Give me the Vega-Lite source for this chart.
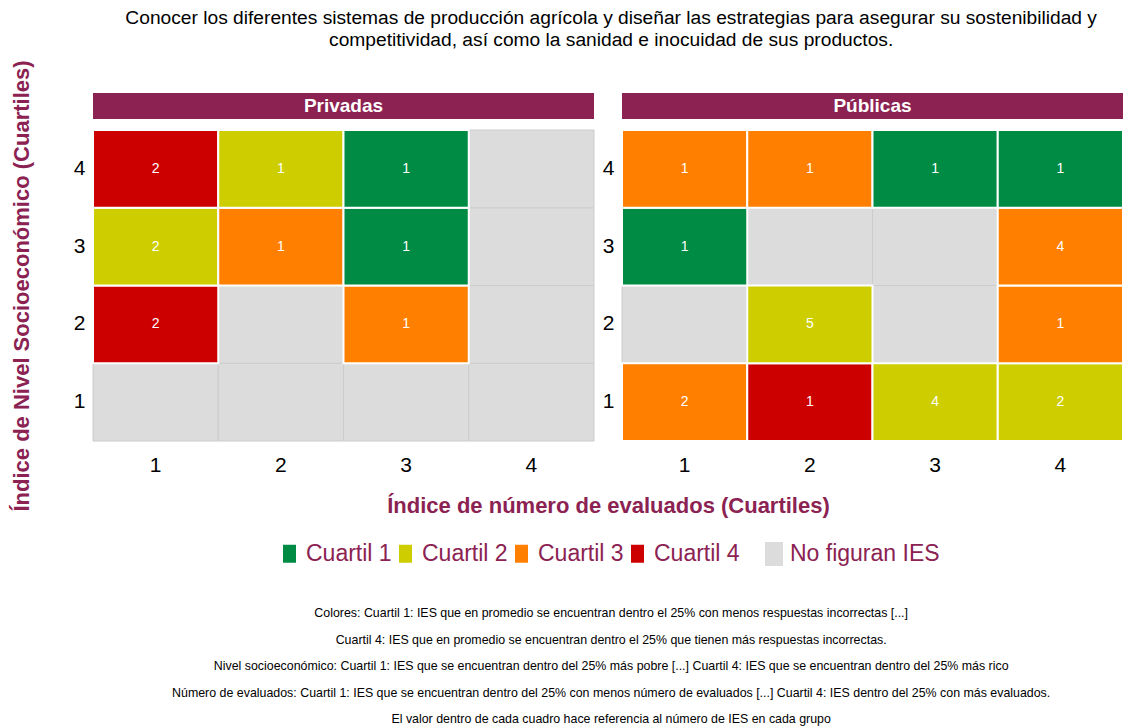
{
  "$schema": "https://vega.github.io/schema/vega-lite/v6.json",
  "padding": {"left": 10, "top": 8, "right": 0, "bottom": 0},
  "config": {
    "font": "Liberation Sans",
    "view": {"stroke": null}
  },
  "datasets": {
    "paneles": [{"sector": "Privadas"}, {"sector": "Públicas"}],
    "celdas": [
      {"sector": "Privadas", "x": 1, "y": 1, "cuartil": "No figuran IES", "n": null},
      {"sector": "Privadas", "x": 2, "y": 1, "cuartil": "No figuran IES", "n": null},
      {"sector": "Privadas", "x": 3, "y": 1, "cuartil": "No figuran IES", "n": null},
      {"sector": "Privadas", "x": 4, "y": 1, "cuartil": "No figuran IES", "n": null},
      {"sector": "Privadas", "x": 1, "y": 2, "cuartil": "Cuartil 4", "n": 2},
      {"sector": "Privadas", "x": 2, "y": 2, "cuartil": "No figuran IES", "n": null},
      {"sector": "Privadas", "x": 3, "y": 2, "cuartil": "Cuartil 3", "n": 1},
      {"sector": "Privadas", "x": 4, "y": 2, "cuartil": "No figuran IES", "n": null},
      {"sector": "Privadas", "x": 1, "y": 3, "cuartil": "Cuartil 2", "n": 2},
      {"sector": "Privadas", "x": 2, "y": 3, "cuartil": "Cuartil 3", "n": 1},
      {"sector": "Privadas", "x": 3, "y": 3, "cuartil": "Cuartil 1", "n": 1},
      {"sector": "Privadas", "x": 4, "y": 3, "cuartil": "No figuran IES", "n": null},
      {"sector": "Privadas", "x": 1, "y": 4, "cuartil": "Cuartil 4", "n": 2},
      {"sector": "Privadas", "x": 2, "y": 4, "cuartil": "Cuartil 2", "n": 1},
      {"sector": "Privadas", "x": 3, "y": 4, "cuartil": "Cuartil 1", "n": 1},
      {"sector": "Privadas", "x": 4, "y": 4, "cuartil": "No figuran IES", "n": null},
      {"sector": "Públicas", "x": 1, "y": 1, "cuartil": "Cuartil 3", "n": 2},
      {"sector": "Públicas", "x": 2, "y": 1, "cuartil": "Cuartil 4", "n": 1},
      {"sector": "Públicas", "x": 3, "y": 1, "cuartil": "Cuartil 2", "n": 4},
      {"sector": "Públicas", "x": 4, "y": 1, "cuartil": "Cuartil 2", "n": 2},
      {"sector": "Públicas", "x": 1, "y": 2, "cuartil": "No figuran IES", "n": null},
      {"sector": "Públicas", "x": 2, "y": 2, "cuartil": "Cuartil 2", "n": 5},
      {"sector": "Públicas", "x": 3, "y": 2, "cuartil": "No figuran IES", "n": null},
      {"sector": "Públicas", "x": 4, "y": 2, "cuartil": "Cuartil 3", "n": 1},
      {"sector": "Públicas", "x": 1, "y": 3, "cuartil": "Cuartil 1", "n": 1},
      {"sector": "Públicas", "x": 2, "y": 3, "cuartil": "No figuran IES", "n": null},
      {"sector": "Públicas", "x": 3, "y": 3, "cuartil": "No figuran IES", "n": null},
      {"sector": "Públicas", "x": 4, "y": 3, "cuartil": "Cuartil 3", "n": 4},
      {"sector": "Públicas", "x": 1, "y": 4, "cuartil": "Cuartil 3", "n": 1},
      {"sector": "Públicas", "x": 2, "y": 4, "cuartil": "Cuartil 3", "n": 1},
      {"sector": "Públicas", "x": 3, "y": 4, "cuartil": "Cuartil 1", "n": 1},
      {"sector": "Públicas", "x": 4, "y": 4, "cuartil": "Cuartil 1", "n": 1}
    ]
  },
  "title": {
    "text": [
      "Colores: Cuartil 1:  IES que en promedio se encuentran dentro el 25% con menos respuestas incorrectas [...]",
      "Cuartil 4: IES que en promedio se encuentran dentro el 25% que tienen más respuestas incorrectas.",
      "Nivel socioeconómico: Cuartil 1: IES que se encuentran dentro del 25% más pobre [...] Cuartil 4: IES que se encuentran dentro del 25% más rico",
      "Número de evaluados: Cuartil 1: IES que se encuentran dentro del 25% con menos número de evaluados [...] Cuartil 4: IES dentro del 25% con más evaluados.",
      "El valor dentro de cada cuadro hace referencia al número de IES en cada grupo"
    ],
    "orient": "bottom",
    "anchor": "middle",
    "frame": "bounds",
    "dx": 44,
    "fontSize": 12.4,
    "fontWeight": "normal",
    "lineHeight": 26.5,
    "offset": 41,
    "color": "black"
  },
  "vconcat": [
    {
      "title": {
        "text": [
          "Conocer los diferentes sistemas de producción agrícola y diseñar las estrategias para asegurar su sostenibilidad y",
          "competitividad, así como la sanidad e inocuidad de sus productos."
        ],
        "anchor": "middle",
        "frame": "bounds",
        "dx": 44,
        "fontSize": 19.2,
        "fontWeight": "normal",
        "lineHeight": 22,
        "offset": 10,
        "color": "black"
      },
      "bounds": "flush",
      "columns": 2,
      "spacing": {"row": 11, "column": 28},
      "concat": [
        {
          "data": {"name": "paneles"},
          "transform": [{"filter": "datum.sector == 'Privadas'"}],
          "width": 501,
          "height": 26,
          "layer": [
            {
              "mark": {"type": "rect", "fill": "#8B2252"},
              "encoding": {"x": {"field": "sector", "type": "nominal", "axis": null, "scale": {"paddingInner": 0, "paddingOuter": 0}}}
            },
            {
              "mark": {"type": "text", "fill": "white", "fontSize": 19, "fontWeight": "bold"},
              "encoding": {
                "x": {"field": "sector", "type": "nominal", "axis": null, "scale": {"paddingInner": 0, "paddingOuter": 0}},
                "text": {"field": "sector"}
              }
            }
          ]
        },
        {
          "data": {"name": "paneles"},
          "transform": [{"filter": "datum.sector == 'Públicas'"}],
          "width": 501,
          "height": 26,
          "layer": [
            {
              "mark": {"type": "rect", "fill": "#8B2252"},
              "encoding": {"x": {"field": "sector", "type": "nominal", "axis": null, "scale": {"paddingInner": 0, "paddingOuter": 0}}}
            },
            {
              "mark": {"type": "text", "fill": "white", "fontSize": 19, "fontWeight": "bold"},
              "encoding": {
                "x": {"field": "sector", "type": "nominal", "axis": null, "scale": {"paddingInner": 0, "paddingOuter": 0}},
                "text": {"field": "sector"}
              }
            }
          ]
        },
        {
          "data": {"name": "celdas"},
          "transform": [{"filter": "datum.sector == 'Privadas'"}],
          "width": 501,
          "height": 311,
          "encoding": {
            "x": {"field": "x", "type": "ordinal", "scale": {"domain": [1, 2, 3, 4], "paddingInner": 0, "paddingOuter": 0},
              "axis": {"title": "Índice de número de evaluados (Cuartiles)", "titleFontSize": 22, "titleColor": "#8B2252", "titleFontWeight": "bold", "titlePadding": 20, "titleX": 515,
                "labelAngle": 0, "labelFontSize": 21, "labelColor": "black", "ticks": false, "domain": false, "labelPadding": 13}},
            "y": {"field": "y", "type": "ordinal", "scale": {"domain": [4, 3, 2, 1], "paddingInner": 0, "paddingOuter": 0},
              "axis": {"title": "Índice de Nivel Socioeconómico (Cuartiles)", "titleFontSize": 22, "titleColor": "#8B2252", "titleFontWeight": "bold", "titlePadding": 40,
                "labelFontSize": 21, "labelAngle": 0, "ticks": false, "domain": false, "labelPadding": 8, "labelColor": "black"}}
          },
          "layer": [
            {
              "transform": [{"filter": "datum.n == null"}],
              "mark": {"type": "rect", "stroke": "#CCCCCC", "strokeWidth": 1},
              "encoding": {"fill": {"field": "cuartil", "type": "nominal",
                "scale": {"domain": ["No figuran IES"], "range": ["#DCDCDC"]},
                "legend": {"title": null, "orient": "none", "legendX": 669, "legendY": 449, "direction": "horizontal",
                  "symbolType": "M-0.75,-1L0.75,-1L0.75,1L-0.75,1Z", "symbolSize": 576, "symbolStrokeWidth": 0, "labelFontSize": 23, "labelColor": "#8B2252", "labelLimit": 0, "labelOffset": 4}}}
            },
            {
              "transform": [{"filter": "datum.n != null"}],
              "mark": {"type": "rect", "stroke": "white", "strokeWidth": 2},
              "encoding": {"color": {"field": "cuartil", "type": "nominal",
                "scale": {"domain": ["Cuartil 1", "Cuartil 2", "Cuartil 3", "Cuartil 4"], "range": ["#008B45", "#CDCD00", "#FF7F00", "#CD0000"]},
                "legend": {"title": null, "orient": "none", "legendX": 185, "legendY": 449, "direction": "horizontal",
                  "symbolType": "M-0.72,-1L0.72,-1L0.72,1L-0.72,1Z", "symbolSize": 324, "symbolStrokeWidth": 0, "labelFontSize": 23, "labelColor": "#8B2252", "labelLimit": 0, "columnPadding": 2, "labelOffset": 5}}}
            },
            {
              "transform": [{"filter": "datum.n != null"}],
              "mark": {"type": "text", "fill": "white", "fontSize": 14},
              "encoding": {"text": {"field": "n", "type": "quantitative"}}
            }
          ]
        },
        {
          "data": {"name": "celdas"},
          "transform": [{"filter": "datum.sector == 'Públicas'"}],
          "width": 501,
          "height": 311,
          "encoding": {
            "x": {"field": "x", "type": "ordinal", "scale": {"domain": [1, 2, 3, 4], "paddingInner": 0, "paddingOuter": 0},
              "axis": {"title": null, "labelAngle": 0, "labelFontSize": 21, "labelColor": "black", "ticks": false, "domain": false, "labelPadding": 13}},
            "y": {"field": "y", "type": "ordinal", "scale": {"domain": [4, 3, 2, 1], "paddingInner": 0, "paddingOuter": 0},
              "axis": {"title": null, "labelFontSize": 21, "labelAngle": 0, "ticks": false, "domain": false, "labelPadding": 8, "labelColor": "black"}}
          },
          "layer": [
            {
              "transform": [{"filter": "datum.n == null"}],
              "mark": {"type": "rect", "stroke": "#CCCCCC", "strokeWidth": 1},
              "encoding": {"fill": {"field": "cuartil", "type": "nominal",
                "scale": {"domain": ["No figuran IES"], "range": ["#DCDCDC"]}, "legend": null}}
            },
            {
              "transform": [{"filter": "datum.n != null"}],
              "mark": {"type": "rect", "stroke": "white", "strokeWidth": 2},
              "encoding": {"color": {"field": "cuartil", "type": "nominal",
                "scale": {"domain": ["Cuartil 1", "Cuartil 2", "Cuartil 3", "Cuartil 4"], "range": ["#008B45", "#CDCD00", "#FF7F00", "#CD0000"]}, "legend": null}}
            },
            {
              "transform": [{"filter": "datum.n != null"}],
              "mark": {"type": "text", "fill": "white", "fontSize": 14},
              "encoding": {"text": {"field": "n", "type": "quantitative"}}
            }
          ]
        }
      ]
    }
  ]
}
